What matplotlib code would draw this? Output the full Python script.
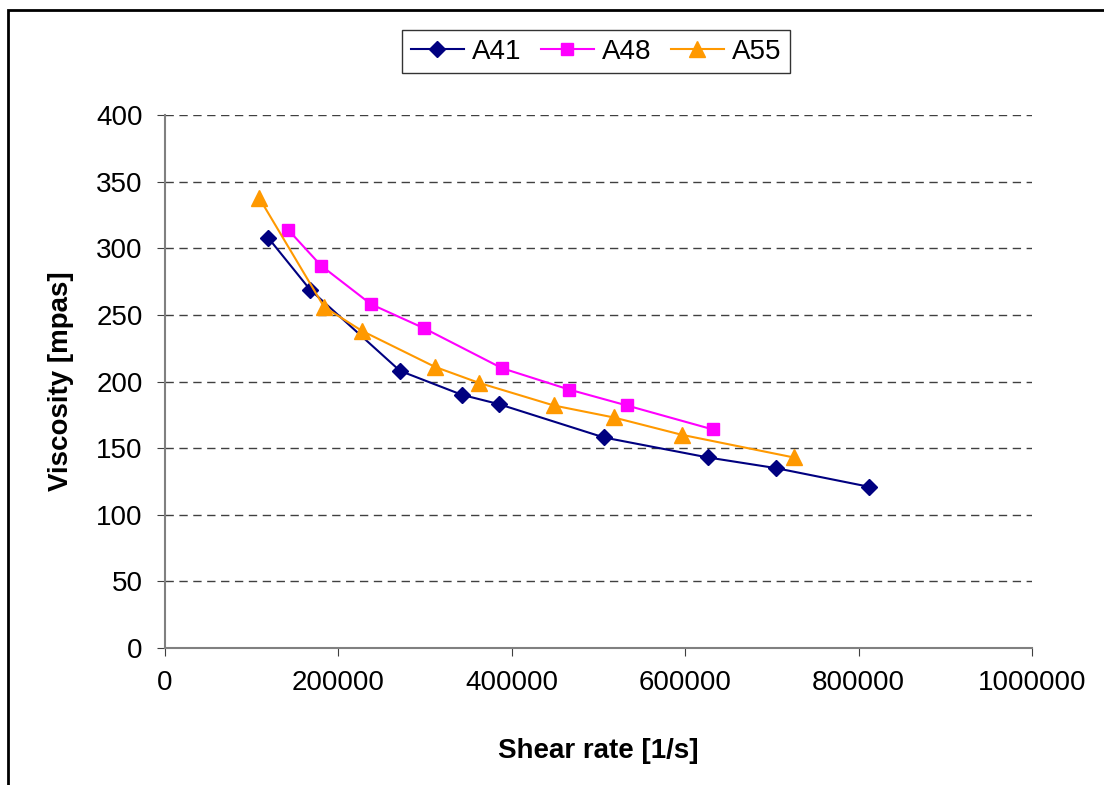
import matplotlib.pyplot as plt
from matplotlib.patches import Rectangle

plt.rcParams["font.family"] = ["Liberation Sans", "DejaVu Sans"]

# Data
a41_x = [118800, 167200, 271000, 342500, 385200, 506300, 626200, 704700, 812000]
a41_y = [308, 269, 208, 190, 183, 158, 143, 135, 121]

a48_x = [141800, 179900, 237600, 298700, 388700, 465900, 532800, 632000]
a48_y = [314, 287, 258, 240, 210, 194, 182, 164]

a55_x = [108400, 183400, 227100, 311300, 362000, 448500, 517700, 596100, 725200]
a55_y = [338, 256, 238, 211, 199, 182, 173, 160, 143]

x_ticks = [0, 200000, 400000, 600000, 800000, 1000000]
y_ticks = [0, 50, 100, 150, 200, 250, 300, 350, 400]

fig = plt.figure(figsize=(11.04, 7.85), dpi=100, facecolor="white")
ax = fig.add_axes([0.1495, 0.1745, 0.7853, 0.679])

ax.plot(a41_x, a41_y, color="#000080", marker="D", markersize=8.5, lw=1.5, label="A41")
ax.plot(a48_x, a48_y, color="#FF00FF", marker="s", markersize=9, lw=1.5, label="A48")
ax.plot(a55_x, a55_y, color="#FF9900", marker="^", markersize=11, lw=1.5, label="A55")

ax.set_xlim(0, 1000000)
ax.set_ylim(0, 400)
ax.set_xticks(x_ticks)
ax.set_yticks(y_ticks)
ax.set_xticklabels([str(t) for t in x_ticks])
ax.tick_params(labelsize=20, color="#404040", length=6, direction="out", pad=10)

ax.grid(axis="y", linestyle=(0, (6, 4)), color="#404040", lw=1)
for side in ("top", "right"):
    ax.spines[side].set_visible(False)
for side in ("left", "bottom"):
    ax.spines[side].set_color("#808080")
    ax.spines[side].set_linewidth(1.5)

ax.set_xlabel("Shear rate [1/s]", fontsize=20, fontweight="bold", labelpad=30)
ax.set_ylabel("Viscosity [mpas]", fontsize=20, fontweight="bold", labelpad=16)

leg = fig.legend(loc="upper center", bbox_to_anchor=(0.54, 0.979), ncol=3,
                 fontsize=20, frameon=True, fancybox=False, edgecolor="black",
                 handlelength=1.9, handletextpad=0.3, columnspacing=0.7,
                 borderpad=0.3)
leg.get_frame().set_linewidth(1)

# chart border
fig.add_artist(Rectangle((0.0072, -0.1), 1.2, 1.0873, transform=fig.transFigure,
                         fill=False, edgecolor="black", lw=2, clip_on=False))

plt.savefig("out.png", dpi=100)
